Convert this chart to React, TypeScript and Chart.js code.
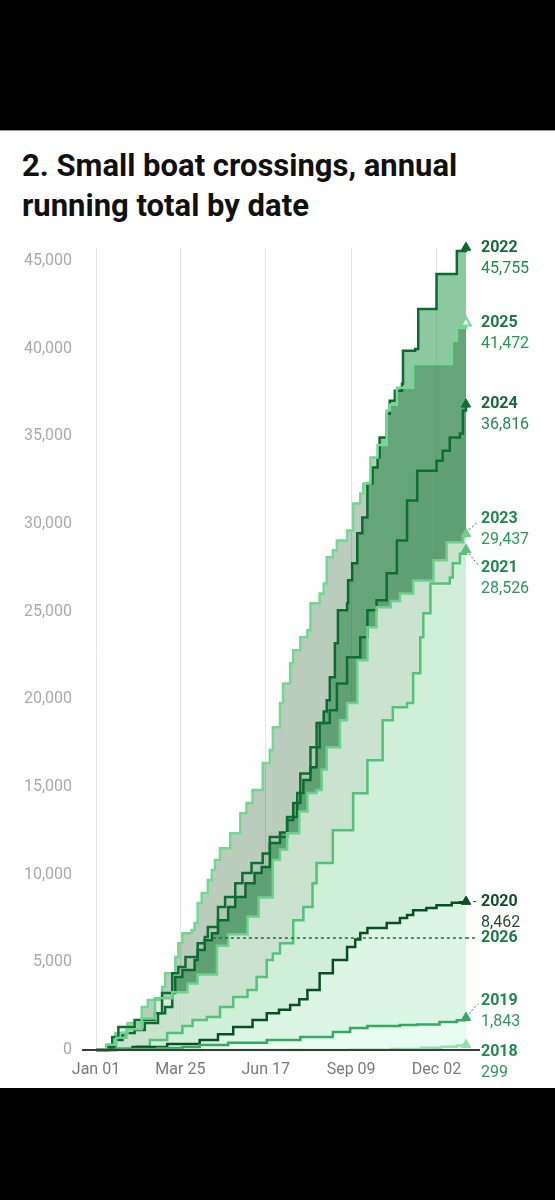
import React, { useEffect, useRef } from 'react';
import { Chart, registerables } from 'chart.js';

Chart.register(...registerables);

const TITLE_LINES = ['2. Small boat crossings, annual', 'running total by date'];
const X_TICK_DAYS = [0, 83, 167, 251, 335];
const X_TICK_LABELS = ['Jan 01', 'Mar 25', 'Jun 17', 'Sep 09', 'Dec 02'];
const Y_TICKS = [0, 5000, 10000, 15000, 20000, 25000, 30000, 35000, 40000, 45000];
const Y_MAX = 45755;
const LAST_DAY = 364;

const DAYS_2022 = [0,12,19,26,38,48,61,68,75,78,85,97,100,107,114,120,130,137,147,156,163,171,181,188,194,201,204,211,217,220,224,227,230,235,238,247,248,252,257,262,267,272,277,279,286,289,294,301,302,314,317,334,335,350,355,364];
const VALUES_2022 = [0,150,570,970,1140,1540,2100,2450,3250,4160,4560,5130,5700,6260,6660,7400,8150,8720,9510,10090,10430,11800,12400,13110,14080,14650,15390,16130,17270,18640,19300,19950,21260,23200,25070,25470,26780,27750,29460,30370,32310,33220,33790,34930,36280,37020,37590,37990,39870,39980,42260,42260,44250,44250,45560,45755];

const DAYS_2025 = [0,12,19,31,45,51,65,68,78,81,85,94,97,100,104,110,114,117,122,132,142,148,154,164,171,174,181,184,191,194,201,208,211,220,224,227,233,237,247,253,260,263,270,277,286,289,296,312,345,350,355,364];
const VALUES_2025 = [0,300,970,1540,2450,2850,3590,4380,5300,6090,6660,6840,7240,8380,8950,9690,10260,10830,11510,12360,13500,14080,14820,16360,17100,18400,19770,20900,22050,22800,23530,23930,25470,26030,26600,28100,28500,29060,29630,31170,31740,32310,33790,34500,36460,36800,37760,39120,39120,40430,41170,41472];

const DAYS_2024 = [0,12,16,22,38,58,65,75,81,88,100,107,110,120,127,137,144,153,164,171,188,198,201,211,217,230,237,247,260,267,276,286,296,306,316,335,341,348,358,361,364];
const VALUES_2024 = [0,200,740,1310,1710,2100,3250,4380,4730,5300,6090,6440,7010,8150,8720,9510,10090,10660,11200,12140,13280,14650,15770,17270,18640,19370,20900,22390,23540,25070,25640,27180,29060,31330,33030,33600,34170,34930,35150,36470,36816];

const DAYS_2023 = [0,10,20,30,45,58,75,90,100,119,130,149,160,174,181,188,200,208,217,222,227,240,247,257,267,276,290,299,312,332,345,361,364];
const VALUES_2023 = [0,300,700,1180,1800,2950,3300,3793,4300,5949,6600,7610,8700,10830,11434,12360,13600,14650,14820,16000,17270,18800,19780,22220,24100,25240,25600,26030,26770,27920,28950,29300,29437];

const DAYS_2021 = [0,20,40,53,70,85,95,109,122,135,149,158,168,174,181,194,204,213,217,233,253,267,282,292,306,312,319,322,329,348,351,358,364];
const VALUES_2021 = [0,100,200,570,970,1370,1710,1880,2450,3020,3420,4160,5130,5500,6090,7400,8150,9510,10660,12530,14640,16520,18800,19550,19780,21480,23540,24900,26600,26950,27750,28300,28526];

const DAYS_2020 = [0,14,36,70,102,120,135,154,168,180,191,200,208,220,233,247,255,260,267,286,299,306,312,325,335,350,358,364];
const VALUES_2020 = [0,40,170,340,570,900,1310,1710,2100,2300,2560,2900,3420,4380,5130,5870,6300,6670,6950,7240,7520,7700,7970,8100,8260,8400,8430,8462];

const DAYS_2019 = [0,20,36,60,85,102,130,168,201,233,250,267,299,316,338,355,363,364];
const VALUES_2019 = [0,30,50,120,170,290,420,570,740,1030,1250,1370,1420,1450,1590,1700,1820,1843];

const DAYS_2018 = [0,150,250,290,320,340,355,364];
const VALUES_2018 = [0,5,20,60,130,180,250,299];

const DAYS_2026 = [115,364];
const VALUES_2026 = [6380,6380];

type Series = {
  year: string;
  days: number[];
  values: number[];
  line: string;
  fill: string | null;
  width: number;
  dash?: number[];
  hollow?: boolean;
  labelColor: string;
  valueColor: string;
  shift: number;
  showValue: boolean;
};

// draw order: first = on top
const SERIES: Series[] = [
  { year: '2026', days: DAYS_2026, values: VALUES_2026, line: '#1f6b3a', fill: null, width: 1.5, dash: [3, 3], labelColor: '#1d7a44', valueColor: '#1d7a44', shift: 0, showValue: false },
  { year: '2018', days: DAYS_2018, values: VALUES_2018, line: '#8fe3a9', fill: 'rgba(240,255,248,0.6)', width: 2.5, labelColor: '#1f8a4c', valueColor: '#2a9a5a', shift: 7, showValue: true },
  { year: '2019', days: DAYS_2019, values: VALUES_2019, line: '#36a862', fill: 'rgba(242,255,248,0.6)', width: 2.5, labelColor: '#1f8a4c', valueColor: '#2a9a5a', shift: -17, showValue: true },
  { year: '2020', days: DAYS_2020, values: VALUES_2020, line: '#0a4f22', fill: 'rgba(229,252,239,0.6)', width: 2.5, labelColor: '#0f4f27', valueColor: '#1f4f30', shift: 0, showValue: true },
  { year: '2021', days: DAYS_2021, values: VALUES_2021, line: '#55c27a', fill: 'rgba(212,248,223,0.6)', width: 2.5, labelColor: '#1f8a4c', valueColor: '#2a9a5a', shift: 18, showValue: true },
  { year: '2023', days: DAYS_2023, values: VALUES_2023, line: '#6fd08c', fill: 'rgba(228,244,230,0.8)', width: 2.5, labelColor: '#1f8a4c', valueColor: '#2a9a5a', shift: -15, showValue: true },
  { year: '2024', days: DAYS_2024, values: VALUES_2024, line: '#0c6e31', fill: 'rgba(20,110,50,0.08)', width: 2.5, labelColor: '#17693a', valueColor: '#238a50', shift: 0, showValue: true },
  { year: '2025', days: DAYS_2025, values: VALUES_2025, line: '#72d892', fill: 'rgba(0,70,10,0.27)', width: 2.5, hollow: true, labelColor: '#1d7a44', valueColor: '#2a9455', shift: 0, showValue: true },
  { year: '2022', days: DAYS_2022, values: VALUES_2022, line: '#0b6a2e', fill: 'rgba(48,155,84,0.55)', width: 2.5, labelColor: '#17693a', valueColor: '#238a50', shift: 0, showValue: true },
];

const fmt = (v: number) => v.toLocaleString('en-US');

const endLabels = {
  id: 'endLabels',
  afterDatasetsDraw(chart: any) {
    const { ctx, chartArea, scales } = chart;
    const ys = scales.y;
    const xr = chartArea.right;
    const y0 = ys.getPixelForValue(0);
    ctx.save();
    ctx.strokeStyle = '#3c3c3c';
    ctx.lineWidth = 2;
    ctx.beginPath();
    ctx.moveTo(chartArea.left - 14, y0);
    ctx.lineTo(xr + 14, y0);
    ctx.stroke();

    ctx.textBaseline = 'middle';
    ctx.textAlign = 'left';
    SERIES.forEach((s) => {
      const last = s.values[s.values.length - 1];
      const py = ys.getPixelForValue(last);
      const ly = py + s.shift;
      const lx = xr + 15;
      ctx.strokeStyle = s.labelColor;
      ctx.lineWidth = 1;
      if (s.year === '2026') {
        ctx.setLineDash([3, 3]);
        ctx.lineWidth = 1.5;
        ctx.beginPath();
        ctx.moveTo(xr, py);
        ctx.lineTo(xr + 12, py);
        ctx.stroke();
      } else if (s.year === '2020') {
        ctx.setLineDash([3, 2]);
        ctx.beginPath();
        ctx.moveTo(xr + 7, py);
        ctx.lineTo(xr + 12, py);
        ctx.stroke();
      } else if (s.shift !== 0 && s.year !== '2018') {
        ctx.setLineDash([2, 2]);
        const up = s.shift < 0;
        ctx.beginPath();
        ctx.moveTo(xr + 3, py + (up ? -4 : 4));
        ctx.lineTo(xr + 12, ly + (up ? 3 : -3));
        ctx.stroke();
      }
      ctx.setLineDash([]);
      ctx.fillStyle = s.labelColor;
      ctx.font = 'bold 16px Roboto';
      ctx.fillText(s.year, lx, ly);
      if (s.showValue) {
        ctx.fillStyle = s.valueColor;
        ctx.font = '16px Roboto';
        ctx.fillText(fmt(last), lx, ly + 21);
      }
    });
    ctx.restore();
  },
};

export default function App() {
  const canvasRef = useRef<HTMLCanvasElement>(null);

  useEffect(() => {
    document.body.style.margin = '0';
    Chart.defaults.font.family = 'Roboto';
    const datasets = SERIES.map((s) => ({
      label: s.year,
      data: s.days.map((d, i) => ({ x: d, y: s.values[i] })),
      borderColor: s.line,
      borderWidth: s.width,
      borderDash: s.dash || [],
      backgroundColor: s.fill || 'rgba(0,0,0,0)',
      fill: s.fill ? 'origin' : false,
      stepped: s.dash ? false : true,
      clip: false as any,
      pointStyle: 'triangle',
      pointRadius: (c: any) => (!s.dash && c.dataIndex === s.days.length - 1 ? 5.5 : 0),
      pointHoverRadius: 0,
      pointBackgroundColor: s.hollow ? '#ffffff' : s.line,
      pointBorderColor: s.line,
      pointBorderWidth: s.hollow ? 2 : 1,
    }));

    const chart = new Chart(canvasRef.current!, {
      type: 'line',
      data: { datasets },
      plugins: [endLabels],
      options: {
        animation: false,
        responsive: true,
        maintainAspectRatio: false,
        layout: { padding: { left: 0, right: 89, top: 1, bottom: 0 } },
        plugins: {
          legend: { display: false },
          tooltip: { enabled: false },
          filler: { drawTime: 'beforeDatasetsDraw' } as any,
        },
        scales: {
          x: {
            type: 'linear',
            min: 0,
            max: LAST_DAY,
            afterBuildTicks: (scale: any) => {
              scale.ticks = X_TICK_DAYS.map((v) => ({ value: v }));
            },
            afterFit: (scale: any) => {
              scale.height = 38;
            },
            ticks: {
              autoSkip: false,
              maxRotation: 0,
              padding: 10,
              color: '#7a7a7a',
              font: { size: 16 },
              callback: (_v: any, i: number) => X_TICK_LABELS[i],
            },
            grid: { color: '#e4e4e4', lineWidth: 1, drawTicks: false },
            border: { display: false },
          },
          y: {
            type: 'linear',
            min: 0,
            max: Y_MAX,
            afterBuildTicks: (scale: any) => {
              scale.ticks = Y_TICKS.map((v) => ({ value: v }));
            },
            afterFit: (scale: any) => {
              scale.width = 96;
            },
            ticks: {
              autoSkip: false,
              padding: 24,
              color: '#aaaaaa',
              font: { size: 16 },
              callback: (v: any) => fmt(Number(v)),
            },
            grid: { display: false, drawTicks: false },
            border: { display: false },
          },
        },
      } as any,
    });
    return () => chart.destroy();
  }, []);

  return (
    <div style={{ position: 'absolute', left: 0, top: 0, width: 555, height: 1200, background: '#000', overflow: 'hidden' }}>
      <div style={{ position: 'absolute', left: 0, top: 130, width: 555, height: 958, background: '#fff', borderTop: '1px solid #9a9a9a', boxSizing: 'border-box' }} />
      <div style={{ position: 'absolute', left: 22, top: 146, fontFamily: 'Roboto', fontWeight: 700, fontSize: 31, lineHeight: '40px', color: '#111', whiteSpace: 'nowrap' }}>
        {TITLE_LINES[0]}
        <br />
        {TITLE_LINES[1]}
      </div>
      <div style={{ position: 'absolute', left: 0, top: 214, width: 555, height: 874 }}>
        <canvas ref={canvasRef} />
      </div>
    </div>
  );
}
